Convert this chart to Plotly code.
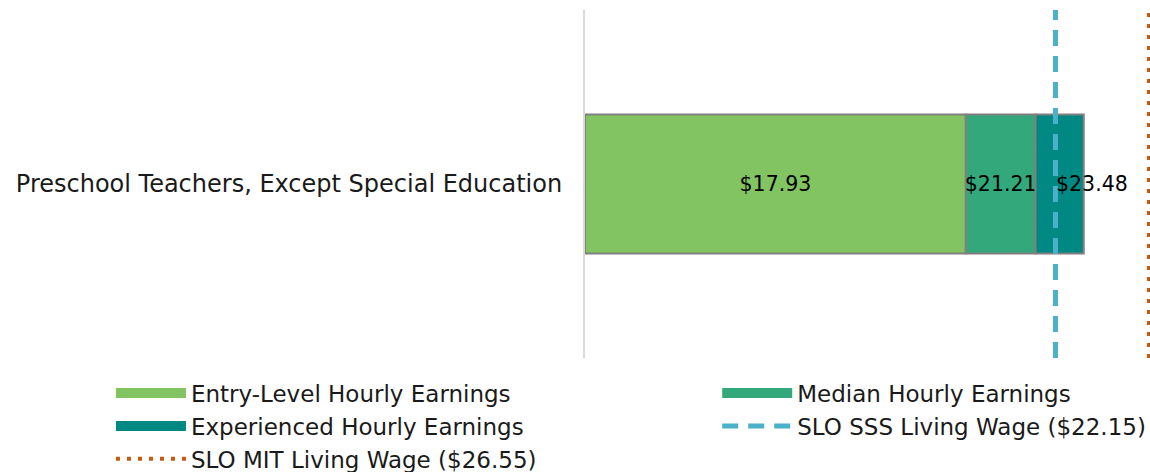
import plotly.graph_objects as go

categories = ["Preschool Teachers, Except Special Education"]
entry = [17.93]
median = [21.21]
experienced = [23.48]
sss_wage = 22.15
mit_wage = 26.55

FONT = "DejaVu Sans"
OUTLINE = dict(color="#7f7f7f", width=2)
C_ENTRY, C_MED, C_EXP = "#82c462", "#33a97b", "#008982"
BAR_FONT = dict(color="black", size=20.5, family=FONT)

seg_median = [m - e for m, e in zip(median, entry)]
seg_exp = [x - m for x, m in zip(experienced, median)]

fig = go.Figure()
fig.add_trace(go.Bar(
    y=categories, x=entry, base=[0], orientation="h", name="Entry-Level Hourly Earnings",
    marker=dict(color=C_ENTRY, line=OUTLINE), width=0.4, showlegend=False,
    text=[f"${v:.2f}" for v in entry], textposition="inside", insidetextanchor="middle",
    textangle=0, constraintext="none", textfont=BAR_FONT, hoverinfo="skip"))
fig.add_trace(go.Bar(
    y=categories, x=seg_median, base=entry, orientation="h", name="Median Hourly Earnings",
    marker=dict(color=C_MED, line=OUTLINE), width=0.4, showlegend=False,
    text=[f"${v:.2f}" for v in median], textposition="inside", insidetextanchor="middle",
    textangle=0, constraintext="none", textfont=BAR_FONT, hoverinfo="skip"))
fig.add_trace(go.Bar(
    y=categories, x=seg_exp, base=median, orientation="h", name="Experienced Hourly Earnings",
    marker=dict(color=C_EXP, line=OUTLINE), width=0.4, showlegend=False,
    textposition="none", hoverinfo="skip"))

# legend swatches for the bar series
for nm, col, lg, rk in [("Entry-Level Hourly Earnings", C_ENTRY, "legend", 1),
                        ("Median Hourly Earnings", C_MED, "legend2", 1),
                        ("Experienced Hourly Earnings", C_EXP, "legend", 2)]:
    fig.add_trace(go.Scatter(x=[None], y=[None], mode="lines", name=nm,
                             line=dict(color=col, width=13), legend=lg, legendrank=rk))

fig.add_trace(go.Scatter(
    x=[sss_wage, sss_wage], y=[0, 1], yaxis="y2", mode="lines",
    name=f"SLO SSS Living Wage (${sss_wage:.2f})", legendrank=2,
    line=dict(color="#4bb0c9", width=5, dash="16px,10px"), legend="legend2", hoverinfo="skip"))
fig.add_trace(go.Scatter(
    x=[mit_wage, mit_wage], y=[0, 1], yaxis="y2", mode="lines",
    name=f"SLO MIT Living Wage (${mit_wage:.2f})", legendrank=3,
    line=dict(color="#c55a11", width=4, dash="4px,7px"), legend="legend", hoverinfo="skip"))

for cat, v in zip(categories, experienced):
    fig.add_annotation(x=v, y=cat, text=f"${v:.2f}", showarrow=False, xanchor="center",
                       xshift=8, font=BAR_FONT)

legend_font = dict(family=FONT, size=23, color="#1a1a1a")
fig.update_layout(
    width=1150, height=472,
    barmode="overlay",
    margin=dict(l=585, r=0, t=10, b=114, autoexpand=False),
    plot_bgcolor="white", paper_bgcolor="white",
    font=dict(family=FONT, color="#1a1a1a"),
    xaxis=dict(range=[0, 26.6], showgrid=False, zeroline=False, showticklabels=False,
               ticks="", showline=False),
    yaxis=dict(showgrid=False, zeroline=False, showline=True, linecolor="#d9d9d9", linewidth=2,
               ticks="outside", ticklen=16, tickcolor="rgba(0,0,0,0)",
               tickfont=dict(size=24, family=FONT, color="#1a1a1a"), range=[-0.5, 0.5]),
    yaxis2=dict(overlaying="y", range=[0, 1], visible=False),
    legend=dict(x=-0.839, xanchor="left", y=-0.039, yanchor="top", font=legend_font,
                bgcolor="rgba(0,0,0,0)", itemwidth=70, tracegroupgap=0),
    legend2=dict(x=0.234, xanchor="left", y=-0.039, yanchor="top", font=legend_font,
                 bgcolor="rgba(0,0,0,0)", itemwidth=70, tracegroupgap=0),
    showlegend=True,
)

fig.write_html("out.html", config={"displayModeBar": False},
               post_script="document.body.style.margin='0';document.body.style.overflow='hidden';")
